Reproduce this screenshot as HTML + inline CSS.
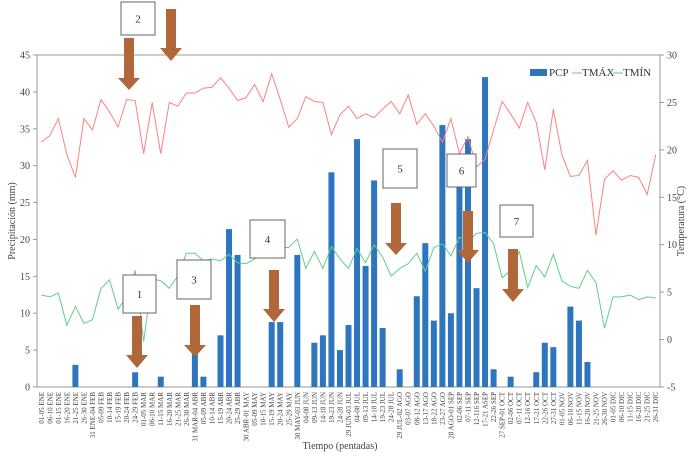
<!DOCTYPE html>
<html><head><meta charset="utf-8"><style>
body{margin:0;background:#fff;}
svg{display:block;font-family:"Liberation Serif",serif;}
</style></head><body>
<svg id="chart" width="692" height="456" viewBox="0 0 692 456" xmlns="http://www.w3.org/2000/svg">
<g id="axes"></g>
<g id="bars"></g>
<g id="lines"></g>
<g id="xlabels" font-size="7" fill="#444"></g>
<g id="annot"></g>
<g font-size="11" fill="#333">
  <rect x="530" y="69" width="17" height="7" fill="#2e75c0"/>
  <text x="549" y="76">PCP</text>
  <line x1="572" y1="73" x2="582" y2="73" stroke="#ff8080" stroke-width="1"/>
  <text x="582" y="76">TMÁX</text>
  <line x1="613" y1="73" x2="623" y2="73" stroke="#5fcf8a" stroke-width="1"/>
  <text x="623" y="76">TMÍN</text>
</g>
<text font-size="10" fill="#444" text-anchor="middle" transform="translate(15,221) rotate(-90)">Precipitación (mm)</text>
<text font-size="10" fill="#444" text-anchor="middle" transform="translate(684,221) rotate(-90)">Temperatura (°C)</text>
<text font-size="10" fill="#444" text-anchor="middle" x="340" y="449">Tiempo (pentadas)</text>
</svg>
<script>
const categories = ["01-05 ENE","06-10 ENE","01-15 ENE","16-20 ENE","21-25 ENE","26-30 ENE","31 ENE-04 FEB","05-09 FEB","10-14 FEB","15-19 FEB","20-24 FEB","24-29 FEB","01-05 MAR","06-10 MAR","11-15 MAR","16-20 MAR","21-25 MAR","26-30 MAR","31 MAR-04 ABR","05-09 ABR","10-14 ABR","15-19 ABR","20-24 ABR","25-29 ABR","30 ABR-01 MAY","05-09 MAY","10-15 MAY","15-19 MAY","20-24 MAY","25-29 MAY","30 MAY-03 JUN","04-08 JUN","09-13 JUN","14-18 JUN","19-23 JUN","24-28 JUN","29 JUN-03 JUL","04-08 JUL","09-13 JUL","14-18 JUL","19-23 JUL","24-28 JUL","29 JUL-02 AGO","03-07 AGO","08-12 AGO","13-17 AGO","18-22 AGO","23-27 AGO","28 AGO-01 SEP","02-06 SEP","07-11 SEP","12-116 SEP","17-21 ASEP","22-26 SEP","27 SEP-01 OCT","02-06 OCT","07-11 OCT","12-16 OCT","17-21 OCT","22-26 OCT","27-31 OCT","01-05 NOV","06-10 NOV","11-15 NOV","16-20 NOV","21-25 NOV","26-30 NOV","01-05 DIC","06-10 DIC","11-15 DIC","16-20 DIC","21-25 DIC","26-31 DIC"];
const pcp = [0,0,0,0,3,0,0,0,0,0,0,2,0,0,1.4,0,0,0,5,1.4,0,7,21.4,17.9,0,0,0,8.8,8.8,0,17.9,0,6,7,29.1,5,8.4,33.6,16.4,28,8,0,2.4,0,12.3,19.5,9,35.5,10,28,33.6,13.4,42,2.4,0,1.4,0,0,2,6,5.4,0,10.9,9,3.4,0,0,0,0,0,0,0,0];
const tmax = [20.8,21.5,23.3,19.5,17.1,23.3,22.1,25.3,24,22.4,25.3,25.2,19.6,25,19.6,25,24.6,26,26,26.5,26.6,27.6,26.5,25.2,25.5,26.9,25.1,28,25.3,22.4,23.3,25.6,25.1,25,21.6,23.7,24.6,23.3,23.8,23.4,24.3,25.1,23.8,25.8,22.7,23.8,22.5,20.8,23.3,19.6,21.4,18.2,19,22.1,25.1,23.8,22.3,25,22.9,17.9,24.3,19.5,17.2,17.3,18.9,11,16.9,17.8,16.8,17.3,17.1,15.3,19.5];
const tmin = [4.7,4.5,4.9,1.5,3.5,1.7,2.1,5.4,6.3,3.2,4.5,7.3,-0.2,6.4,6.2,5.4,6.7,9.1,9.1,8.3,8.5,8.3,9,8.1,8,8.5,9,9.6,9.7,9.7,10.6,7.5,9.3,7.5,9.8,8.5,7.5,9.6,8.1,10,8.7,6.7,7.5,8,9.1,7.2,9.7,10.1,8.8,10.8,10.3,11.2,11.3,10.1,6.5,7.3,9.3,5.5,7.8,6.6,9,6.2,5.6,5.4,7.3,6,1.2,4.5,4.5,4.7,4.2,4.5,4.4];
const leftTicks = [0,5,10,15,20,25,30,35,40,45];
const rightTicks = [-5,0,5,10,15,20,25,30];

const NS="http://www.w3.org/2000/svg";
const X0=37, X1=660, Y0=387, Y1=55;
const step=(X1-X0)/categories.length;
const xc=i=>X0+step*(i+0.5);
const yL=v=>Y0-(v/45)*(Y0-Y1);
const yR=v=>Y0-((v+5)/35)*(Y0-Y1);
function mk(tag,attrs,parent){const e=document.createElementNS(NS,tag);for(const k in attrs)e.setAttribute(k,attrs[k]);parent.appendChild(e);return e;}
const axes=document.getElementById('axes');
let fr=mk('rect',{x:X0,y:Y1,width:X1-X0,height:Y0-Y1,fill:'none',stroke:'#999','stroke-width':1},axes);


leftTicks.forEach(v=>{
  let t=mk('line',{x1:X0-4,x2:X0,y1:yL(v),y2:yL(v),stroke:'#999'},axes);
  
  
  let l=mk('text',{x:X0-7,y:yL(v)+3.5,'text-anchor':'end','font-size':10,fill:'#444'},axes);
  
  
  l.textContent=v;
});
rightTicks.forEach(v=>{
  let t=mk('line',{x1:X1,x2:X1+4,y1:yR(v),y2:yR(v),stroke:'#999'},axes);
  
  
  let l=mk('text',{x:X1+7,y:yR(v)+3.5,'font-size':10,fill:'#444'},axes);
  
  
  l.textContent=v;
});
const bars=document.getElementById('bars');
pcp.forEach((v,i)=>{
  if(v<=0)return;
  let b=mk('rect',{x:xc(i)-3,y:yL(v),width:6,height:Y0-yL(v),fill:'#2e75c0'},bars);
  
  
});
const lines=document.getElementById('lines');
let p1=mk('polyline',{points:tmax.map((v,i)=>xc(i)+','+yR(v)).join(' '),fill:'none',stroke:'#ff8080','stroke-width':1},lines);


let p2=mk('polyline',{points:tmin.map((v,i)=>xc(i)+','+yR(v)).join(' '),fill:'none',stroke:'#5fcf8a','stroke-width':1},lines);


const xl=document.getElementById('xlabels');
categories.forEach((c,i)=>{
  let t=mk('text',{'text-anchor':'end',transform:`translate(${xc(i)+2.5},392) rotate(-90)`},xl);
  
  
  t.textContent=c;
});
const annot=document.getElementById('annot');
const boxes=[[121,2,34,33,'2'],[123,275,33,38,'1'],[177,260,34,39,'3'],[250,220,35,38,'4'],[383,149,34,39,'5'],[447,154,29,33,'6'],[500,205,33,32,'7']];
boxes.forEach(b=>{
  let r=mk('rect',{x:b[0],y:b[1],width:b[2],height:b[3],fill:'#fff',stroke:'#666','stroke-width':1},annot);
  
  
  let t=mk('text',{x:b[0]+b[2]/2,y:b[1]+b[3]/2+4,'text-anchor':'middle','font-size':11,fill:'#333'},annot);
  
  
  t.textContent=b[4];
});
// arrows: cx, top, headStart, tip
const arrows=[[129,38,78,90],[171,9,48,61],[137,316,355,368],[195,305,345,357],[274,270,309,322],[396,203,243,255],[468,211,250,263],[513,249,289,302]];
arrows.forEach((a,k)=>{
  const [cx,t,h,tip]=a;
  let p=mk('polygon',{points:`${cx-5},${t} ${cx+5},${t} ${cx+5},${h} ${cx+11},${h} ${cx},${tip} ${cx-11},${h} ${cx-5},${h}`,fill:'#b0683a'},annot);
  
  
});
</script>
</body></html>
